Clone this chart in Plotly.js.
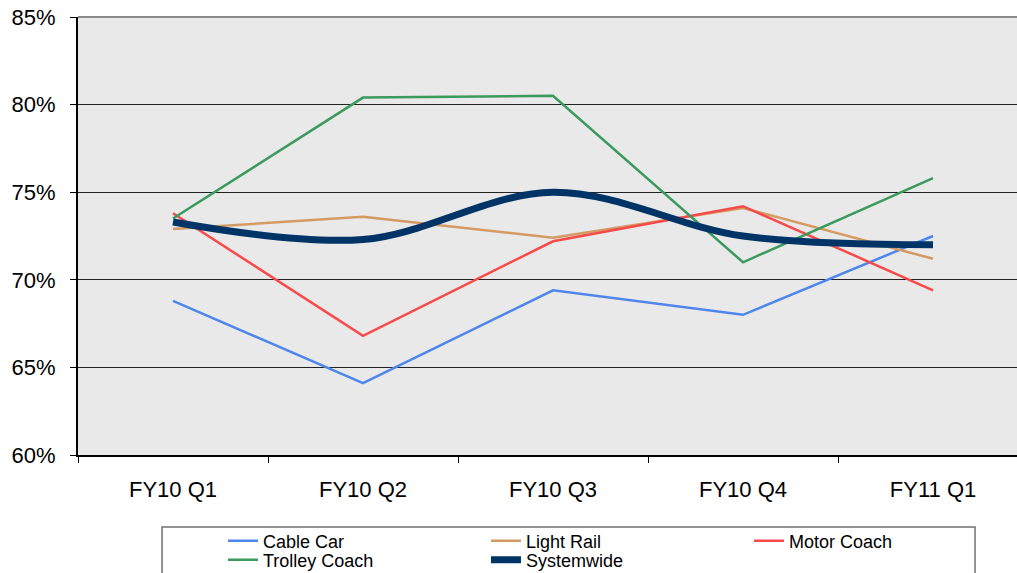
<!DOCTYPE html>
<html><head><meta charset="utf-8">
<script src="https://cdn.plot.ly/plotly-3.0.1.min.js"></script>
<style>html,body{margin:0;padding:0;background:#fff}#chart{width:1017px;height:573px}</style>
</head><body><div id="chart"></div>
<script>
var categories = ["FY10 Q1", "FY10 Q2", "FY10 Q3", "FY10 Q4", "FY11 Q1"];
var cableCar = [0.688, 0.641, 0.694, 0.680, 0.725];
var lightRail = [0.729, 0.736, 0.724, 0.741, 0.712];
var motorCoach = [0.738, 0.668, 0.722, 0.742, 0.694];
var trolleyCoach = [0.735, 0.804, 0.805, 0.710, 0.758];
var systemwide = [0.733, 0.723, 0.750, 0.725, 0.720];
var yTicks = [0.60, 0.65, 0.70, 0.75, 0.80, 0.85];
var yTickText = ["60%", "65%", "70%", "75%", "80%", "85%"];

function tr(name, y, color, width, shape, leg) {
  return {x: categories, y: y, name: name, type: 'scatter', mode: 'lines', legend: leg,
    line: {color: color, width: width, shape: shape || 'linear', smoothing: 1}, hoverinfo: 'skip'};
}
var data = [
  tr('Cable Car', cableCar, '#4f86ec', 2.5, 'linear', 'legend'),
  tr('Light Rail', lightRail, '#d49a62', 2.5, 'linear', 'legend'),
  tr('Motor Coach', motorCoach, '#f84a4a', 2.5, 'linear', 'legend'),
  tr('Trolley Coach', trolleyCoach, '#3b9a5c', 2.5, 'linear', 'legend2'),
  tr('Systemwide', systemwide, '#003366', 7, 'spline', 'legend2')
];
var legendStyle = function (y) {
  return {orientation: 'h', x: 0.1544, xanchor: 'left', y: y, yanchor: 'middle',
    bgcolor: 'rgba(0,0,0,0)', borderwidth: 0, entrywidth: 218, entrywidthmode: 'pixels',
    font: {size: 18}, traceorder: 'normal'};
};
var layout = {
  width: 1017, height: 573,
  margin: {l: 78, r: 0, t: 17, b: 118, autoexpand: false},
  paper_bgcolor: '#ffffff', plot_bgcolor: '#e9e9e9',
  font: {family: 'Liberation Sans, Arial, sans-serif', color: '#000'},
  xaxis: {type: 'category', range: [-0.5, 4.442], tickson: 'boundaries', ticks: 'outside',
    ticklen: 6, tickcolor: '#000', showline: true, linecolor: '#000', linewidth: 2,
    showgrid: false, zeroline: false, tickfont: {size: 22}, ticklabelstandoff: 14},
  yaxis: {range: [0.60, 0.85], tickvals: yTicks, ticktext: yTickText, ticks: 'outside',
    ticklen: 6, tickcolor: '#000', showline: true, linecolor: '#000', linewidth: 2,
    showgrid: true, gridcolor: '#222', gridwidth: 1.2, zeroline: false,
    tickfont: {size: 22}, ticklabelstandoff: 10},
  shapes: [
    {type: 'line', xref: 'paper', yref: 'paper', x0: 0, x1: 1, y0: 1, y1: 1,
      line: {color: '#8a8a8a', width: 2}},
    {type: 'rect', xref: 'paper', yref: 'paper', x0: 0.0895, x1: 0.9553, y0: -0.1644, y1: -0.31,
      fillcolor: '#ffffff', line: {color: '#707070', width: 1.5}, layer: 'above'}
  ],
  showlegend: true,
  legend: legendStyle(-0.1963),
  legend2: legendStyle(-0.2397)
};
Plotly.newPlot('chart', data, layout, {staticPlot: true, displayModeBar: false});
</script></body></html>
